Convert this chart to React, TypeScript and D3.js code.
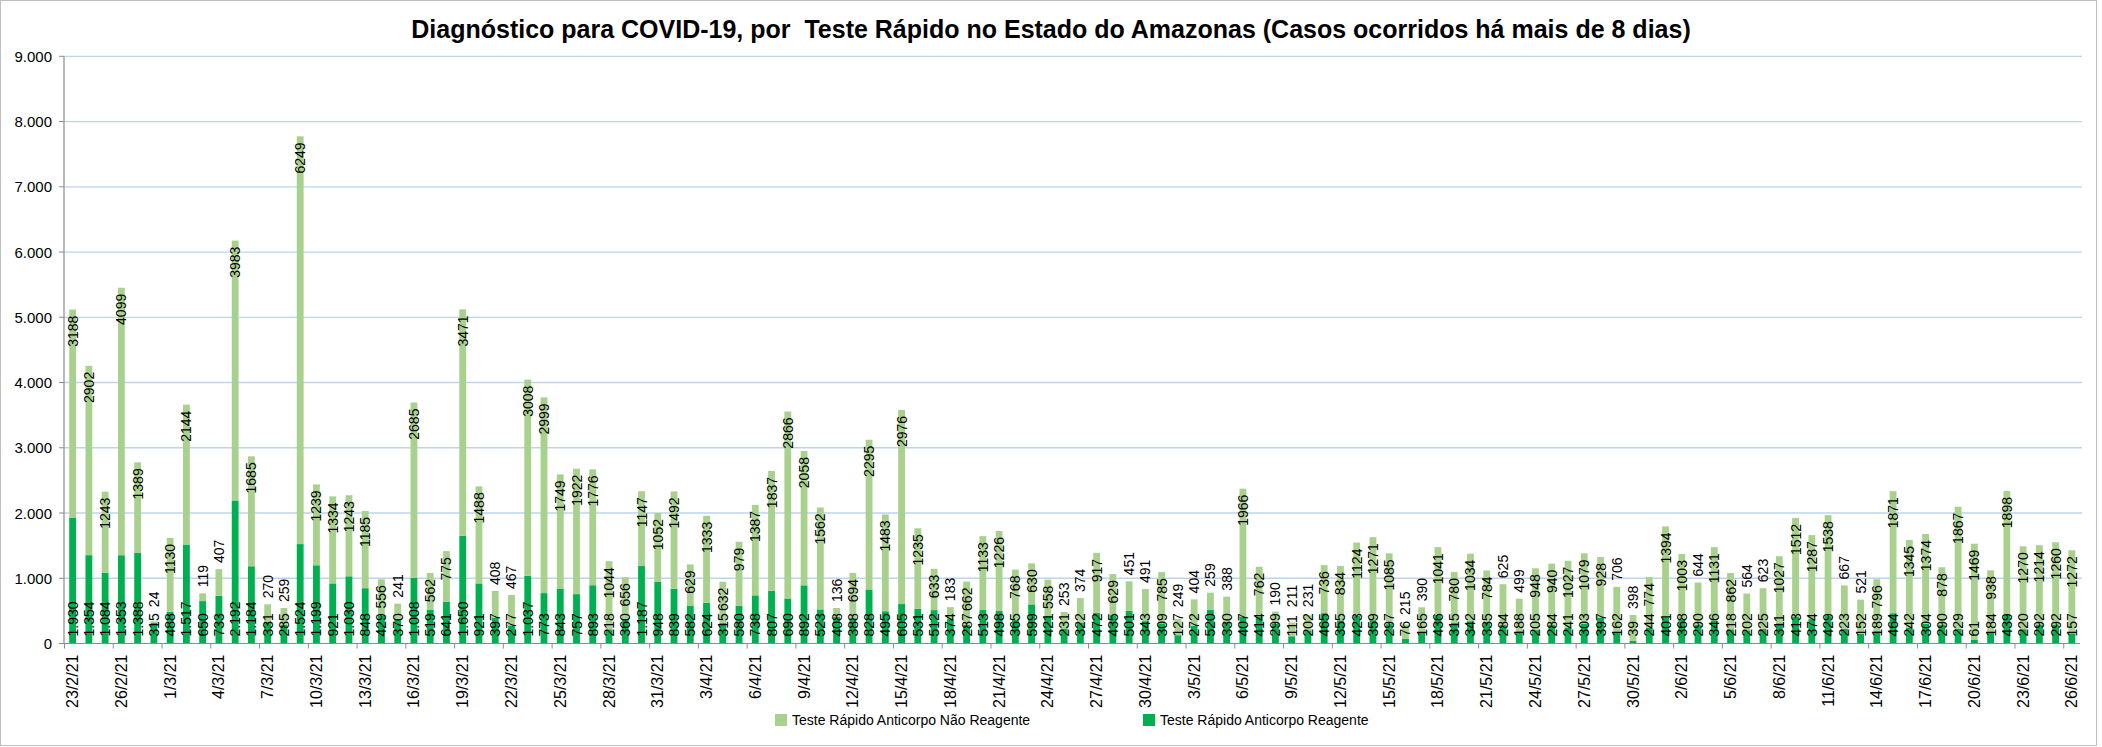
import React from "react";
import * as d3 from "d3";

const dates: string[] = [
  "23/2/21","24/2/21","25/2/21","26/2/21","27/2/21","28/2/21",
  "1/3/21","2/3/21","3/3/21","4/3/21","5/3/21","6/3/21","7/3/21","8/3/21","9/3/21","10/3/21",
  "11/3/21","12/3/21","13/3/21","14/3/21","15/3/21","16/3/21","17/3/21","18/3/21","19/3/21","20/3/21",
  "21/3/21","22/3/21","23/3/21","24/3/21","25/3/21","26/3/21","27/3/21","28/3/21","29/3/21","30/3/21","31/3/21",
  "1/4/21","2/4/21","3/4/21","4/4/21","5/4/21","6/4/21","7/4/21","8/4/21","9/4/21","10/4/21",
  "11/4/21","12/4/21","13/4/21","14/4/21","15/4/21","16/4/21","17/4/21","18/4/21","19/4/21","20/4/21",
  "21/4/21","22/4/21","23/4/21","24/4/21","25/4/21","26/4/21","27/4/21","28/4/21","29/4/21","30/4/21",
  "1/5/21","2/5/21","3/5/21","4/5/21","5/5/21","6/5/21","7/5/21","8/5/21","9/5/21","10/5/21",
  "11/5/21","12/5/21","13/5/21","14/5/21","15/5/21","16/5/21","17/5/21","18/5/21","19/5/21","20/5/21",
  "21/5/21","22/5/21","23/5/21","24/5/21","25/5/21","26/5/21","27/5/21","28/5/21","29/5/21","30/5/21","31/5/21",
  "1/6/21","2/6/21","3/6/21","4/6/21","5/6/21","6/6/21","7/6/21","8/6/21","9/6/21","10/6/21",
  "11/6/21","12/6/21","13/6/21","14/6/21","15/6/21","16/6/21","17/6/21","18/6/21","19/6/21","20/6/21",
  "21/6/21","22/6/21","23/6/21","24/6/21","25/6/21","26/6/21"
];

const reagente: number[] = [
  1930,1354,1084,1353,1388,315,
  488,1517,650,733,2192,1184,331,285,1524,1199,921,1030,848,429,370,1008,519,641,1650,921,397,277,1037,773,843,757,893,218,360,1187,948,
  839,582,624,315,580,738,807,690,892,523,408,388,828,495,605,531,512,374,287,513,498,365,599,421,231,322,472,435,501,343,
  309,127,272,520,330,407,414,299,111,202,465,355,423,359,297,76,165,436,315,342,335,284,188,205,284,241,303,397,162,39,244,
  401,368,290,346,218,202,225,311,413,374,429,223,152,189,464,242,304,290,229,61,184,439,220,292,292,157
];

const naoReagente: number[] = [
  3188,2902,1243,4099,1389,24,
  1130,2144,119,407,3983,1685,270,259,6249,1239,1334,1243,1185,556,241,2685,562,775,3471,1488,408,467,3008,2999,1749,1922,1776,1044,656,1147,1052,
  1492,629,1333,632,979,1387,1837,2866,2058,1562,136,694,2295,1483,2976,1235,633,183,662,1133,1226,768,630,558,253,374,917,629,451,491,
  785,249,404,259,388,1966,762,190,211,231,736,834,1124,1271,1085,215,390,1041,780,1034,784,625,499,948,940,1027,1079,928,706,398,774,
  1394,1003,644,1131,862,564,623,1027,1512,1287,1538,667,521,796,1871,1345,1374,878,1867,1469,938,1898,1270,1214,1260,1272
];

const yTicks: number[] = [0,1000,2000,3000,4000,5000,6000,7000,8000,9000];

const TITLE = "Diagnóstico para COVID-19, por  Teste Rápido no Estado do Amazonas (Casos ocorridos há mais de 8 dias)";
const LEG_NR = "Teste Rápido Anticorpo Não Reagente";
const LEG_R = "Teste Rápido Anticorpo Reagente";

const LIGHT = "#A9D18E";
const DARK = "#00B050";
const GRID = "#BCD5EE";
const AXIS = "#8C8C8C";

const W = 2102, H = 747;
const L = 64, R = 2080, T = 56.3, B = 643.5;
const FONT = "'Liberation Sans', Arial, sans-serif";

const locale = d3.formatLocale({ decimal: ",", thousands: ".", grouping: [3], currency: ["", ""] });
const fmtDot = locale.format(",d");

export default function App() {
  const x = d3.scaleBand<string>().domain(dates).range([L + 0.5, R]).paddingInner(0.58).paddingOuter(0.29);
  const y = d3.scaleLinear().domain([0, 9000]).range([B, T]);
  const bw = x.bandwidth();
  const step = x.step();
  const lblFs = 14;
  const charW = 0.556 * lblFs;
  const pad = 6;

  return (
    <svg width={W} height={H} style={{ position: "absolute", left: 0, top: 0, background: "#fff" }} fontFamily={FONT}>
      <rect x={0.5} y={0.5} width={2096} height={745} fill="#fff" stroke="#BFBFBF" />
      <text x={1051} y={38} textAnchor="middle" fontSize={25} fontWeight="bold" fill="#000" style={{ whiteSpace: "pre" }}>{TITLE}</text>
      {yTicks.filter(v => v > 0).map(v => (
        <line key={"g" + v} x1={L} x2={R + 2} y1={y(v)} y2={y(v)} stroke={GRID} strokeWidth={1.3} />
      ))}
      {yTicks.map(v => (
        <g key={"yt" + v}>
          <line x1={L - 5} x2={L} y1={y(v)} y2={y(v)} stroke={AXIS} />
          <text x={52} y={y(v)} textAnchor="end" dominantBaseline="central" fontSize={15} fill="#000">{fmtDot(v)}</text>
        </g>
      ))}
      {dates.map((d, i) => {
        const x0 = x(d)!;
        const r = reagente[i], n = naoReagente[i];
        return (
          <g key={"b" + i}>
            <rect x={x0} width={bw} y={y(r)} height={y(0) - y(r)} fill={DARK} />
            <rect x={x0} width={bw} y={y(r + n)} height={y(r) - y(r + n)} fill={LIGHT} />
          </g>
        );
      })}
      <line x1={L} x2={L} y1={T} y2={B} stroke={AXIS} strokeWidth={1.2} />
      <line x1={L} x2={R} y1={B} y2={B} stroke={AXIS} strokeWidth={1.2} />
      {dates.map((d, i) => i % 3 === 0 ? (
        <g key={"xt" + i}>
          <line x1={x(d)! - (step - bw) / 2} x2={x(d)! - (step - bw) / 2} y1={B} y2={B + 5} stroke={AXIS} />
          <text transform={`translate(${x(d)! + bw / 2},${B + 11}) rotate(-90)`} textAnchor="end" dominantBaseline="central" fontSize={16} fill="#000">{d}</text>
        </g>
      ) : null)}
      {dates.map((d, i) => {
        const cx = x(d)! + bw / 2;
        const r = reagente[i], n = naoReagente[i];
        const rStr = fmtDot(r);
        const nStr = String(n);
        const rLen = (rStr.replace(".", "").length * 0.556 + (rStr.includes(".") ? 0.278 : 0)) * lblFs;
        const rStart = y(0) - 7;
        const rTop = rStart - rLen;
        const nLen = nStr.length * charW;
        const segTop = y(r + n), segBot = y(r);
        let nEl;
        if (segBot - segTop >= nLen + 2 * pad && segTop + pad + nLen < rTop - 2) {
          nEl = <text transform={`translate(${cx},${segTop + pad}) rotate(-90)`} textAnchor="end" dominantBaseline="central" fontSize={lblFs} fill="#000">{nStr}</text>;
        } else {
          const bottom = Math.min(segTop, rTop) - pad;
          nEl = <text transform={`translate(${cx},${bottom}) rotate(-90)`} textAnchor="start" dominantBaseline="central" fontSize={lblFs} fill="#000">{nStr}</text>;
        }
        return (
          <g key={"l" + i}>
            <text transform={`translate(${cx},${rStart}) rotate(-90)`} textAnchor="start" dominantBaseline="central" fontSize={lblFs} fill="#000">{rStr}</text>
            {nEl}
          </g>
        );
      })}
      <rect x={775} y={714} width={12} height={12} fill={LIGHT} />
      <text x={792} y={725} fontSize={14} fill="#000">{LEG_NR}</text>
      <rect x={1143} y={714} width={12} height={12} fill={DARK} />
      <text x={1160} y={725} fontSize={14} fill="#000">{LEG_R}</text>
    </svg>
  );
}
